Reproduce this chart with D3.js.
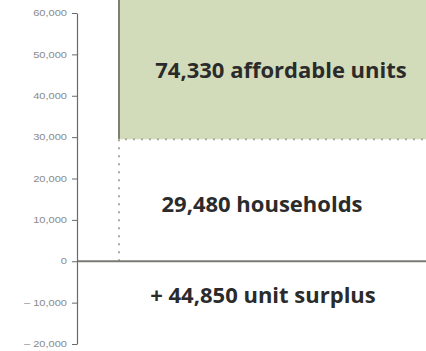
<!DOCTYPE html>
<html>
<head>
<meta charset="utf-8">
<script src="https://cdn.jsdelivr.net/npm/d3@7"></script>
<style>
  html, body { margin: 0; padding: 0; background: #fff; }
  svg { display: block; }
</style>
</head>
<body>
<svg id="chart" width="426" height="351"></svg>
<script>
// Supply vs. demand: affordable units stacked on top of households
const households = 29480;
const affordableUnits = 74330;
const surplus = affordableUnits - households; // 44,850

const tickValues = [60000, 50000, 40000, 30000, 20000, 10000, 0, -10000, -20000];
const tickLabels = ["60,000", "50,000", "40,000", "30,000", "20,000", "10,000", "0", "\u2013 10,000", "\u2013 20,000"];

const labels = ["74,330 affordable units", "29,480 households", "+ 44,850 unit surplus"];
const labelValues = [44300, 11900, -10100];

const width = 426, height = 351;
const margin = { left: 77, top: 13, bottom: 7 };
const barLeft = 119;

const svg = d3.select("#chart");

const y = d3.scaleLinear()
  .domain([-20000, 60000])
  .range([height - margin.bottom, margin.top]);

const x = d3.scaleLinear()
  .domain([0, 1])
  .range([barLeft, width + 20]);

// Affordable units: stacked from the household total up to the full supply
svg.append("rect")
  .attr("x", x(0))
  .attr("y", y(affordableUnits))
  .attr("width", x(1) - x(0))
  .attr("height", y(households) - y(affordableUnits))
  .attr("fill", "#d3dcba");

svg.append("line")
  .attr("x1", x(0)).attr("x2", x(0))
  .attr("y1", y(affordableUnits)).attr("y2", y(households))
  .attr("stroke", "#7d7f72")
  .attr("stroke-width", 2);

// Households: outlined with a dotted border
svg.append("path")
  .attr("d", `M${x(0)},${y(0)} V${y(households)} H${x(1)}`)
  .attr("fill", "none")
  .attr("stroke", "#a9ad98")
  .attr("stroke-width", 2)
  .attr("stroke-dasharray", "2,6");

// Zero baseline
svg.append("line")
  .attr("x1", margin.left).attr("x2", width)
  .attr("y1", y(0)).attr("y2", y(0))
  .attr("stroke", "#7a7a74")
  .attr("stroke-width", 2);

// Y axis
const axis = d3.axisLeft(y)
  .tickValues(tickValues)
  .tickSize(5)
  .tickPadding(5)
  .tickSizeOuter(0)
  .tickFormat((d, i) => tickLabels[i]);

const gAxis = svg.append("g")
  .attr("transform", `translate(${margin.left},0)`)
  .call(axis);

gAxis.select(".domain").attr("stroke", "#6a6a6a").attr("stroke-width", 1.2);
gAxis.selectAll(".tick line").attr("stroke", "#6a6a6a");
gAxis.selectAll(".tick text")
  .attr("fill", "#8a8a8a")
  .style("font-family", "'Liberation Sans', sans-serif")
  .style("font-size", "8.5px")
  .each(function () {
    // widen the small tick labels a little
    const w = this.getComputedTextLength();
    d3.select(this)
      .attr("textLength", w * 1.3)
      .attr("lengthAdjust", "spacingAndGlyphs");
  });

// Value labels
svg.append("g")
  .selectAll("text")
  .data(labels)
  .join("text")
  .attr("x", (d, i) => [281, 262, 263][i])
  .attr("y", (d, i) => y(labelValues[i]))
  .attr("text-anchor", "middle")
  .attr("fill", "#2b2b2b")
  .style("font-family", "'Open Sans', sans-serif")
  .style("font-weight", 700)
  .style("font-size", "22px")
  .text(d => d);
</script>
</body>
</html>
